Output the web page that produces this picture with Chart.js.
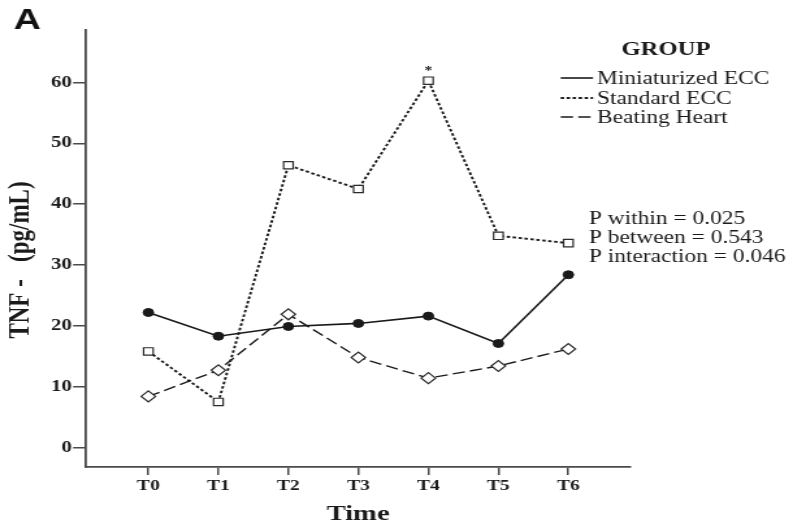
<!DOCTYPE html>
<html>
<head>
<meta charset="utf-8">
<script src="https://cdn.jsdelivr.net/npm/chart.js@4.4.1/dist/chart.umd.min.js"></script>
<style>
  html, body { margin: 0; padding: 0; background: #fff; overflow: hidden; }
  /* the figure is drawn narrow and widened horizontally */
  #wrap { width: 611px; height: 529px; transform: scaleX(1.3); transform-origin: 0 0; }
  canvas { display: block; }
</style>
</head>
<body>
<div id="wrap"><canvas id="c" width="611" height="529"></canvas></div>
<script>
// time points and group means of TNF (pg/mL)
const timeLabels = ['T0', 'T1', 'T2', 'T3', 'T4', 'T5', 'T6'];
const miniECC = [22.2, 18.3, 19.9, 20.4, 21.6, 17.1, 28.4];
const standardECC = [15.8, 7.5, 46.4, 42.5, 60.3, 34.8, 33.6];
const beatingHeart = [8.4, 12.7, 21.9, 14.8, 11.4, 13.4, 16.2];
const yTicks = [0, 10, 20, 30, 40, 50, 60];
const groupNames = ['Miniaturized ECC', 'Standard ECC', 'Beating Heart'];
const pValues = ['P within = 0.025', 'P between = 0.543', 'P interaction = 0.046'];
const significantIndex = 4;

const ink = '#1a1a1a';
const axisColor = '#4a4a4a';
const serif = '"Liberation Serif", "Times New Roman", serif';

const toPoints = arr => arr.map((v, i) => ({ x: i, y: v }));

const dashes = {
  mini: [],
  standard: [2.6, 2],
  beating: [9.5, 4]
};

const datasets = [
  {
    label: groupNames[0],
    data: toPoints(miniECC),
    borderColor: ink, borderWidth: 1.6, borderDash: dashes.mini,
    pointStyle: 'circle', pointRadius: 4,
    pointBackgroundColor: ink, pointBorderColor: ink, pointBorderWidth: 1
  },
  {
    label: groupNames[1],
    data: toPoints(standardECC),
    borderColor: ink, borderWidth: 1.9, borderDash: dashes.standard,
    pointStyle: 'rect', pointRadius: 5.2,
    pointBackgroundColor: '#fff', pointBorderColor: '#2a2a2a', pointBorderWidth: 1.2
  },
  {
    label: groupNames[2],
    data: toPoints(beatingHeart),
    borderColor: ink, borderWidth: 1.4, borderDash: dashes.beating,
    pointStyle: 'rectRot', pointRadius: 5.5,
    pointBackgroundColor: '#fff', pointBorderColor: '#2a2a2a', pointBorderWidth: 1.2
  }
];

// panel letter, group key, statistics and the significance mark
const annotations = {
  id: 'annotations',
  afterDraw(chart) {
    const ctx = chart.ctx;
    const xs = chart.scales.x, ys = chart.scales.y;
    ctx.save();
    ctx.fillStyle = '#111';

    ctx.font = '900 29px "Liberation Sans", Arial, sans-serif';
    ctx.textAlign = 'left';
    ctx.textBaseline = 'alphabetic';
    ctx.fillText('A', 10.5, 28.5);

    ctx.font = 'bold 19px ' + serif;
    ctx.textAlign = 'center';
    ctx.textBaseline = 'middle';
    ctx.fillStyle = ink;
    ctx.fillText('GROUP', 512.3, 50);

    const rows = [78, 98, 117];
    const patterns = [dashes.mini, dashes.standard, dashes.beating];
    const widths = [1.6, 1.9, 1.4];
    ctx.font = '18px ' + serif;
    ctx.textAlign = 'left';
    groupNames.forEach((name, i) => {
      ctx.save();
      ctx.strokeStyle = ink;
      ctx.lineWidth = widths[i];
      ctx.setLineDash(patterns[i]);
      ctx.beginPath();
      ctx.moveTo(431.3, rows[i]);
      ctx.lineTo(456.2, rows[i]);
      ctx.stroke();
      ctx.restore();
      ctx.fillText(name, 459.2, rows[i] + 1);
    });

    const pRows = [219, 238, 257];
    pValues.forEach((t, i) => ctx.fillText(t, 453, pRows[i]));

    ctx.font = 'bold 12px ' + serif;
    ctx.textAlign = 'center';
    ctx.fillText('*', xs.getPixelForValue(significantIndex), ys.getPixelForValue(standardECC[significantIndex]) - 10);
    ctx.restore();
  }
};

new Chart(document.getElementById('c'), {
  type: 'line',
  data: { datasets },
  options: {
    responsive: false,
    animation: false,
    layout: { padding: { left: 0, top: 30, right: 126.4, bottom: 0 } },
    plugins: { legend: { display: false }, tooltip: { enabled: false } },
    elements: { line: { tension: 0 } },
    scales: {
      x: {
        type: 'linear',
        min: -0.89, max: 6.88,
        afterBuildTicks: s => { s.ticks = timeLabels.map((_, i) => ({ value: i })); },
        afterFit: s => { s.height = 62; },
        ticks: {
          callback: v => timeLabels[v],
          color: ink, padding: 2, maxRotation: 0, autoSkip: false,
          font: { family: serif, size: 15, weight: 'bold' }
        },
        grid: { drawOnChartArea: false, drawTicks: true, tickLength: 8, color: axisColor, lineWidth: 1.5 },
        border: { display: true, color: axisColor, width: 1.8 },
        title: {
          display: true, text: 'Time', color: ink,
          font: { family: serif, size: 22, weight: 'bold' },
          padding: { top: 0, bottom: 1 }
        }
      },
      y: {
        min: -3.2, max: 68.63,
        afterBuildTicks: s => { s.ticks = yTicks.map(v => ({ value: v })); },
        afterFit: s => { s.width = 66.2; },
        ticks: {
          color: ink, padding: 1,
          font: { family: serif, size: 16, weight: 'bold' }
        },
        grid: { drawOnChartArea: false, drawTicks: true, tickLength: 10, color: axisColor, lineWidth: 1.5 },
        border: { display: true, color: axisColor, width: 1.8 },
        title: {
          display: true, text: 'TNF -   (pg/mL)    ', color: ink,
          font: { family: serif, size: 23, weight: 'bold' },
          padding: { top: 2, bottom: 0 }
        }
      }
    }
  },
  plugins: [annotations]
});
</script>
</body>
</html>
